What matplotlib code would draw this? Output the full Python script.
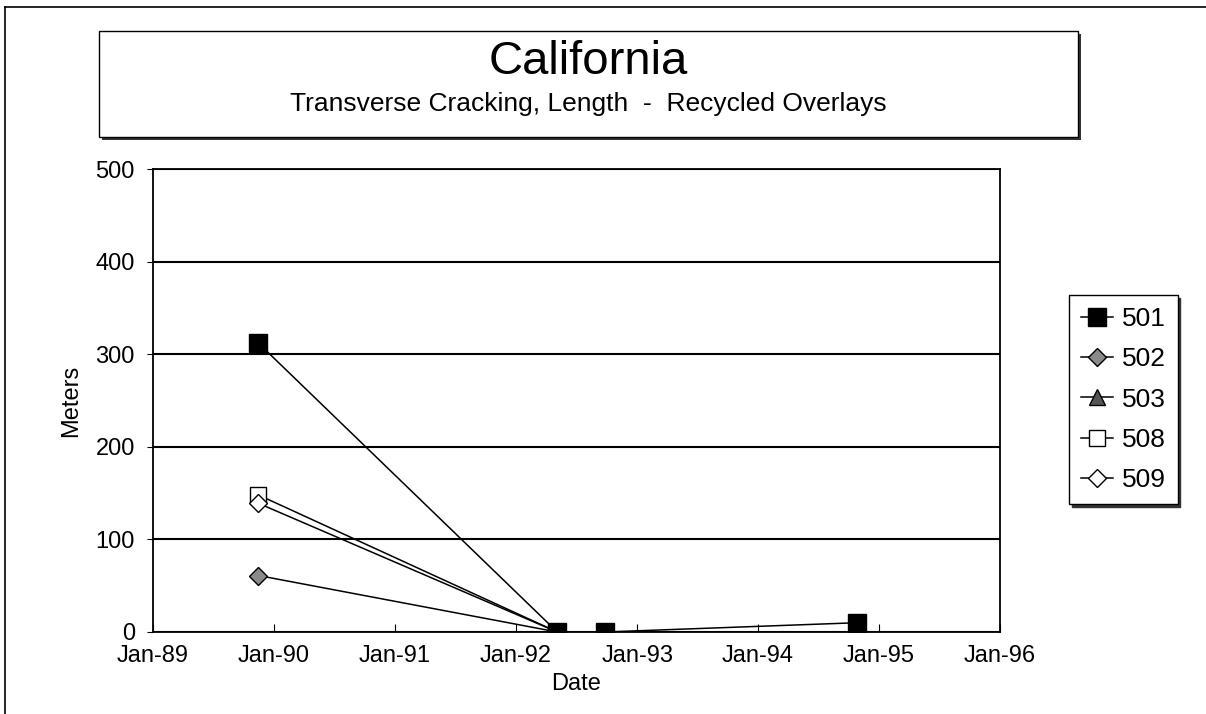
import datetime as dt
import numpy as np
import matplotlib
matplotlib.use("Agg")
import matplotlib.pyplot as plt
import matplotlib.dates as mdates
from matplotlib.patches import Rectangle
from matplotlib.lines import Line2D

plt.rcParams["font.family"] = ["Liberation Sans", "DejaVu Sans"]

# survey dates and cracking length (m) per section
dates = [dt.datetime(1989, 11, 15), dt.datetime(1992, 5, 5),
         dt.datetime(1992, 9, 25), dt.datetime(1994, 10, 25)]
s501 = [312, 0, 0, 10]
s502 = [61, 0, np.nan, 0]
s503 = [np.nan, 0, np.nan, np.nan]
s508 = [148, 0, np.nan, np.nan]
s509 = [139, 0, np.nan, np.nan]
labels = ["501", "502", "503", "508", "509"]
yticks = [0, 100, 200, 300, 400, 500]

W, H = 1206, 714
fig = plt.figure(figsize=(W / 100, H / 100), dpi=100)

def px(x0, y0, x1, y1):
    return [x0 / W, 1 - y1 / H, (x1 - x0) / W, (y1 - y0) / H]

# outer page frame
fig.add_artist(Line2D([5 / W, 1], [1 - 7 / H, 1 - 7 / H], color="black", lw=1.2))
fig.add_artist(Line2D([5 / W, 5 / W], [0, 1 - 7 / H], color="black", lw=1.2))

# title box with shadow
tb = px(99, 31, 1078, 137)
fig.add_artist(Rectangle((tb[0] + 3 / W, tb[1] - 3 / H), tb[2], tb[3],
                         transform=fig.transFigure, facecolor="#333333", edgecolor="none"))
fig.add_artist(Rectangle((tb[0], tb[1]), tb[2], tb[3], transform=fig.transFigure,
                         facecolor="white", edgecolor="black", lw=1.0))
fig.text(588 / W, 1 - 62 / H, "California", ha="center", va="center", fontsize=34)
fig.text(588 / W, 1 - 104 / H, "Transverse Cracking, Length  -  Recycled Overlays",
         ha="center", va="center", fontsize=19)

ax = fig.add_axes(px(153, 169, 1000, 632))
series = [s501, s502, s503, s508, s509]
styles = [
    dict(marker="s", markersize=12.5, markerfacecolor="black", markeredgecolor="black"),
    dict(marker="D", markersize=9, markerfacecolor="#8a8a8a", markeredgecolor="black"),
    dict(marker="^", markersize=11, markerfacecolor="#555555", markeredgecolor="black"),
    dict(marker="s", markersize=11.5, markerfacecolor="white", markeredgecolor="black"),
    dict(marker="D", markersize=9.5, markerfacecolor="white", markeredgecolor="black"),
]
order = [3, 4, 1, 2, 0]
handles = [None] * 5
for i in order:
    ys = np.array(series[i], dtype=float)
    m = ~np.isnan(ys)
    h, = ax.plot([d for d, k in zip(dates, m) if k], ys[m], color="black", lw=1.1,
                 label=labels[i], zorder=3 + (i == 0), **styles[i])
    handles[i] = h

ax.set_xlim(dt.datetime(1989, 1, 1), dt.datetime(1996, 1, 1))
ax.set_ylim(0, 500)
ax.xaxis.set_major_locator(mdates.YearLocator())
ax.xaxis.set_major_formatter(mdates.DateFormatter("%b-%y"))
ax.set_yticks(yticks)
ax.yaxis.grid(True, color="black", lw=1.5)
ax.set_axisbelow(True)
ax.tick_params(axis="x", direction="in", length=6, labelsize=17, pad=9)
ax.tick_params(axis="y", direction="out", length=4, labelsize=17, pad=9)
for sp in ax.spines.values():
    sp.set_linewidth(1.3)
ax.set_xlabel("Date", fontsize=17, labelpad=5)
ax.set_ylabel("Meters", fontsize=17, labelpad=10)

leg = fig.legend(handles, labels, loc="upper left", bbox_to_anchor=(1069 / W, 1 - 295 / H),
                 frameon=True, fancybox=False, shadow={"color": "#333333", "alpha": 1},
                 fontsize=19, handlelength=1.2, handletextpad=0.35, labelspacing=0.62,
                 borderpad=0.45, borderaxespad=0)
leg.get_frame().set_edgecolor("black")
leg.get_frame().set_linewidth(1.0)

fig.savefig("out.png", dpi=100)
